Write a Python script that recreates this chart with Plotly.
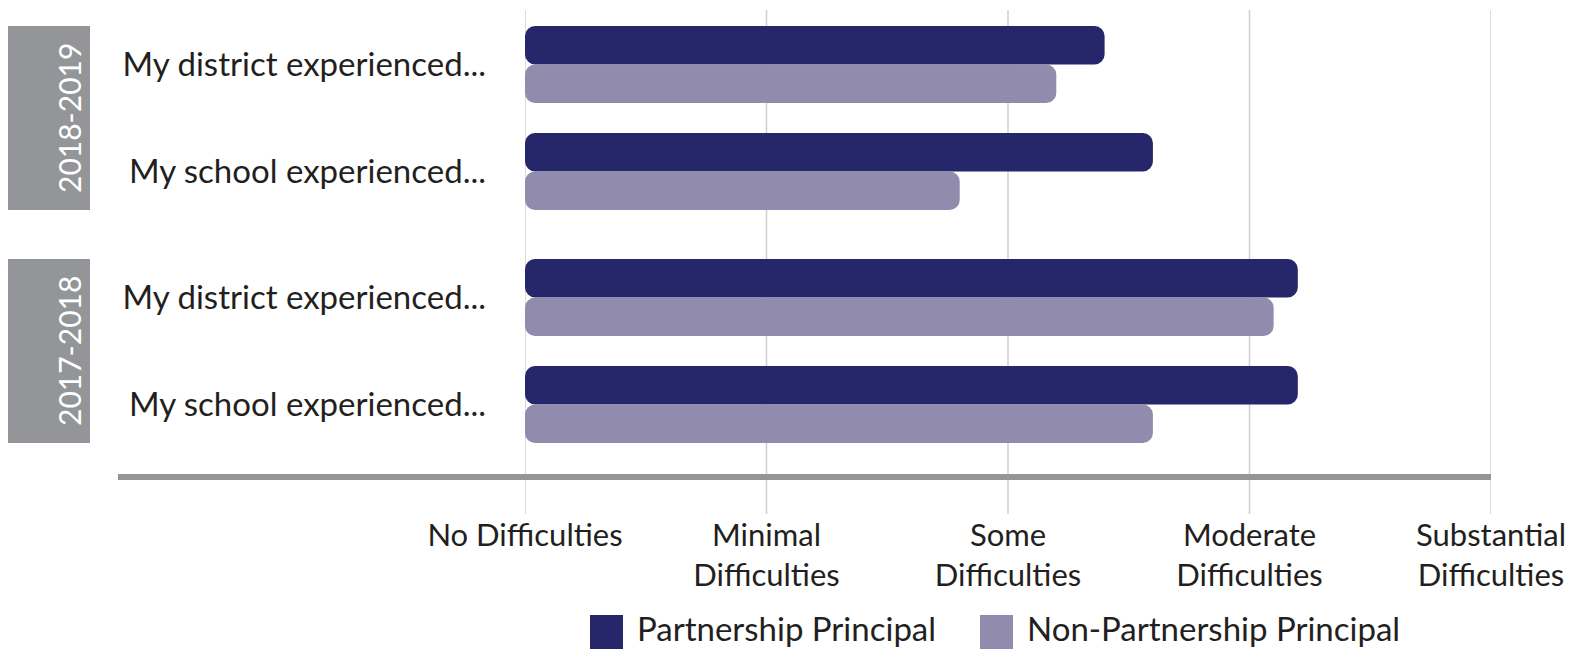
import plotly.graph_objects as go

# Survey responses on a 1-5 difficulty scale
levels = ["No Difficulties", "Minimal<br>Difficulties", "Some<br>Difficulties",
          "Moderate<br>Difficulties", "Substantial<br>Difficulties"]
level_values = [1, 2, 3, 4, 5]

items = ["My district experienced...", "My school experienced..."]
years = ["2018-2019", "2017-2018"]
series_names = ["Partnership Principal", "Non-Partnership Principal"]

partnership_2018_19 = [3.4, 3.6]
non_partnership_2018_19 = [3.2, 2.8]
partnership_2017_18 = [4.2, 4.2]
non_partnership_2017_18 = [4.1, 3.6]

DARK = "#26266b"
LIGHT = "#918cae"
GREY = "#939598"
GRID = "#cfcfcf"
TEXT = "#231f20"
FONT = "Lato"

W, H = 1579, 651
M_L, M_R, M_T, M_B = 525, 88, 10, 137
plot_w = W - M_L - M_R
plot_h = H - M_T - M_B


def px_x(px):
    return (px - M_L) / plot_w


def px_y(px):
    return (H - M_B - px) / plot_h


BASE = level_values[0]
BARGAP = 0.28

fig = go.Figure()
groups = [
    ("y", [partnership_2018_19, non_partnership_2018_19]),
    ("y2", [partnership_2017_18, non_partnership_2017_18]),
]
for yref, (p_vals, np_vals) in groups:
    for name, vals, color in zip(series_names, [p_vals, np_vals], [DARK, LIGHT]):
        fig.add_trace(go.Bar(
            y=items, x=[v - BASE for v in vals], base=BASE,
            orientation="h", name=name, marker_color=color,
            marker_line_width=0, yaxis=yref, xaxis="x",
            showlegend=False, hoverinfo="skip",
        ))

yaxis_common = dict(
    type="category", categoryorder="array", categoryarray=items,
    autorange="reversed", showgrid=False, zeroline=False, showline=False,
    ticks="", ticklabelstandoff=38,
    tickfont=dict(family=FONT, size=33, color=TEXT), anchor="x",
)

fig.update_layout(
    width=W, height=H,
    margin=dict(l=M_L, r=M_R, t=M_T, b=M_B),
    paper_bgcolor="white", plot_bgcolor="white",
    barmode="group", bargap=BARGAP, bargroupgap=0,
    barcornerradius=10,
    showlegend=False,
    font=dict(family=FONT, color=TEXT),
    xaxis=dict(
        range=[level_values[0], level_values[-1]],
        tickvals=level_values, ticktext=levels,
        showgrid=False, zeroline=False, showline=False, ticks="",
        anchor="free", position=0, ticklabelstandoff=0,
        tickfont=dict(family=FONT, size=31, color=TEXT),
    ),
    yaxis=dict(domain=[px_y(225), px_y(11)], **yaxis_common),
    yaxis2=dict(domain=[px_y(458), px_y(244)], **yaxis_common),
)

# vertical guide lines at each scale point
for v in level_values:
    fig.add_shape(type="line", xref="x", yref="paper", x0=v, x1=v, y0=0, y1=1,
                  line=dict(color=GRID, width=1.5), layer="below")

# heavy baseline under the bars
fig.add_shape(type="line", xref="paper", yref="paper",
              x0=px_x(118), x1=1, y0=px_y(477), y1=px_y(477),
              line=dict(color=GREY, width=6), layer="above")

# school-year group labels
half = (1 - BARGAP) / 2
for yref, year in zip(["y", "y2"], years):
    fig.add_shape(type="rect", xref="paper", yref=yref,
                  x0=px_x(8), x1=px_x(90), y0=-half, y1=len(items) - 1 + half,
                  fillcolor=GREY, line_width=0, layer="above")
    fig.add_annotation(xref="paper", yref=yref, x=px_x(49), y=(len(items) - 1) / 2,
                       text=year, textangle=-90, showarrow=False,
                       font=dict(family=FONT, size=30, color="white"))

# legend
legend_items = [(series_names[0], DARK, 590), (series_names[1], LIGHT, 980)]
for name, color, left in legend_items:
    fig.add_shape(type="rect", xref="paper", yref="paper",
                  x0=px_x(left), x1=px_x(left + 33), y0=px_y(649), y1=px_y(615),
                  fillcolor=color, line_width=0)
    fig.add_annotation(xref="paper", yref="paper", x=px_x(left + 46), y=px_y(628),
                       text=name, showarrow=False, xanchor="left", yanchor="middle",
                       borderpad=0,
                       font=dict(family=FONT, size=33, color=TEXT))

fig.write_html("out.html")
